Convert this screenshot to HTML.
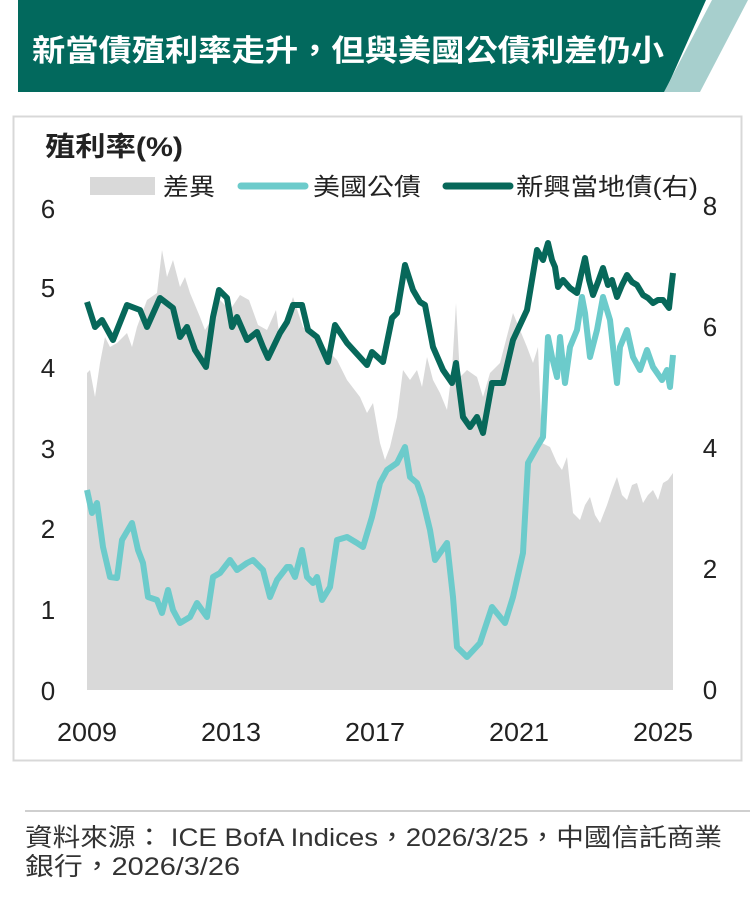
<!DOCTYPE html>
<html><head><meta charset="utf-8"><style>
body{margin:0;width:750px;height:901px;background:#fff;overflow:hidden;font-family:"Liberation Sans","Noto Sans CJK TC",sans-serif;}
</style></head><body>
<svg width="750" height="901" xmlns="http://www.w3.org/2000/svg" style="position:absolute;left:0;top:0" font-family="Liberation Sans,Noto Sans CJK TC,sans-serif">
<polygon points="18,0 706,0 665,92 18,92" fill="#02695d"/>
<polygon points="712,0 748,0 700,92 664,92" fill="#a7cfcd"/>
<text x="32" y="61" font-size="30" font-weight="bold" fill="#fff" textLength="632" lengthAdjust="spacingAndGlyphs">新當債殖利率走升，但與美國公債利差仍小</text>
<rect x="13.5" y="116.5" width="728" height="644" fill="#fff" stroke="#d8d8d8" stroke-width="2"/>
<text x="45" y="156" font-size="27" font-weight="bold" fill="#222" textLength="138" lengthAdjust="spacingAndGlyphs">殖利率(%)</text>
<rect x="90" y="177" width="65" height="18" fill="#d9d9d9"/>
<text x="163" y="195" font-size="24" fill="#222" textLength="52" lengthAdjust="spacingAndGlyphs">差異</text>
<line x1="241" y1="186" x2="305" y2="186" stroke="#6ccbcb" stroke-width="7" stroke-linecap="round"/>
<text x="313" y="195" font-size="24" fill="#222" textLength="108" lengthAdjust="spacingAndGlyphs">美國公債</text>
<line x1="446" y1="186" x2="510" y2="186" stroke="#07685a" stroke-width="7" stroke-linecap="round"/>
<text x="516" y="195" font-size="24" fill="#222" textLength="182" lengthAdjust="spacingAndGlyphs">新興當地債(右)</text>
<polygon fill="#d9d9d9" points="87,690 87,373 90,370 95,397 100,363 105,337 110,347 117,343 127,333 132,347 137,327 147,300 157,293 162,250 167,277 173,260 180,287 185,277 190,293 200,317 205,330 213,317 220,300 230,310 240,295 249,300 258,325 267,330 276,310 280,340 293,297 303,327 320,343 337,360 347,380 360,397 367,413 373,403 380,443 385,460 390,447 397,417 403,370 410,380 417,370 422,387 427,357 433,380 440,393 447,410 452,370 456,303 460,377 467,370 477,377 483,397 490,373 500,363 513,313 520,330 527,347 533,363 538,347 542,443 550,447 557,463 562,470 567,457 573,513 580,520 585,505 590,497 595,515 600,523 607,505 612,490 617,477 622,495 627,500 632,485 637,483 643,503 648,495 653,490 658,500 663,483 668,480 673,473 673,690"/>
<polyline fill="none" stroke="#6ccbcb" stroke-width="6" stroke-linejoin="round" points="87,490 92,513 97,503 103,547 110,577 117,578 122,540 132,523 138,550 143,563 148,597 157,600 162,613 168,590 173,610 180,623 190,617 197,603 207,617 213,577 220,573 230,560 237,570 247,563 253,560 263,570 270,597 277,580 287,567 290,567 295,577 302,550 307,577 313,583 317,577 322,600 330,587 337,540 347,537 357,543 363,547 372,517 380,483 387,470 397,463 405,447 410,477 417,483 422,497 430,530 435,560 447,543 453,597 457,647 467,657 480,643 492,607 505,623 513,597 523,553 528,463 537,447 543,437 548,337 552,357 557,377 560,337 565,383 570,347 577,330 582,297 585,313 590,357 597,330 603,297 610,320 617,383 620,347 627,330 633,357 640,370 647,350 653,367 662,380 667,370 670,387 673,355"/>
<polyline fill="none" stroke="#07685a" stroke-width="6" stroke-linejoin="round" points="87,302 95,327 102,320 113,340 127,305 140,310 147,327 160,298 173,308 180,337 187,327 195,350 206,367 213,317 219,290 227,298 232,327 237,317 247,340 257,332 263,347 268,358 280,333 287,322 293,305 302,305 308,330 317,337 328,362 335,325 347,343 367,365 372,352 383,362 392,318 397,313 405,265 413,290 420,302 425,305 433,347 443,370 452,383 456,363 463,417 470,427 477,417 483,433 492,383 503,383 513,340 527,310 537,250 543,260 548,243 552,260 555,267 558,287 563,280 570,288 577,293 581,275 585,258 589,280 593,295 598,282 603,268 608,285 612,280 617,297 622,285 627,275 632,282 637,285 643,295 648,298 653,303 658,300 663,300 669,308 671,290 673,273"/>
<g font-size="26" fill="#222">
<text x="48" y="218" text-anchor="middle">6</text>
<text x="48" y="297" text-anchor="middle">5</text>
<text x="48" y="377" text-anchor="middle">4</text>
<text x="48" y="458" text-anchor="middle">3</text>
<text x="48" y="538" text-anchor="middle">2</text>
<text x="48" y="619" text-anchor="middle">1</text>
<text x="48" y="700" text-anchor="middle">0</text>
<text x="710" y="215" text-anchor="middle">8</text>
<text x="710" y="336" text-anchor="middle">6</text>
<text x="710" y="457" text-anchor="middle">4</text>
<text x="710" y="578" text-anchor="middle">2</text>
<text x="710" y="699" text-anchor="middle">0</text>
<text x="57" y="741" textLength="60" lengthAdjust="spacingAndGlyphs">2009</text>
<text x="201" y="741" textLength="60" lengthAdjust="spacingAndGlyphs">2013</text>
<text x="345" y="741" textLength="60" lengthAdjust="spacingAndGlyphs">2017</text>
<text x="489" y="741" textLength="60" lengthAdjust="spacingAndGlyphs">2021</text>
<text x="633" y="741" textLength="60" lengthAdjust="spacingAndGlyphs">2025</text>
</g>
<line x1="25" y1="811" x2="750" y2="811" stroke="#cfcfcf" stroke-width="2"/>
<text x="25" y="846" font-size="25" fill="#333" textLength="697" lengthAdjust="spacingAndGlyphs">資料來源： ICE BofA Indices，2026/3/25，中國信託商業</text>
<text x="25" y="875" font-size="25" fill="#333" textLength="215" lengthAdjust="spacingAndGlyphs">銀行，2026/3/26</text>
</svg>
</body></html>
